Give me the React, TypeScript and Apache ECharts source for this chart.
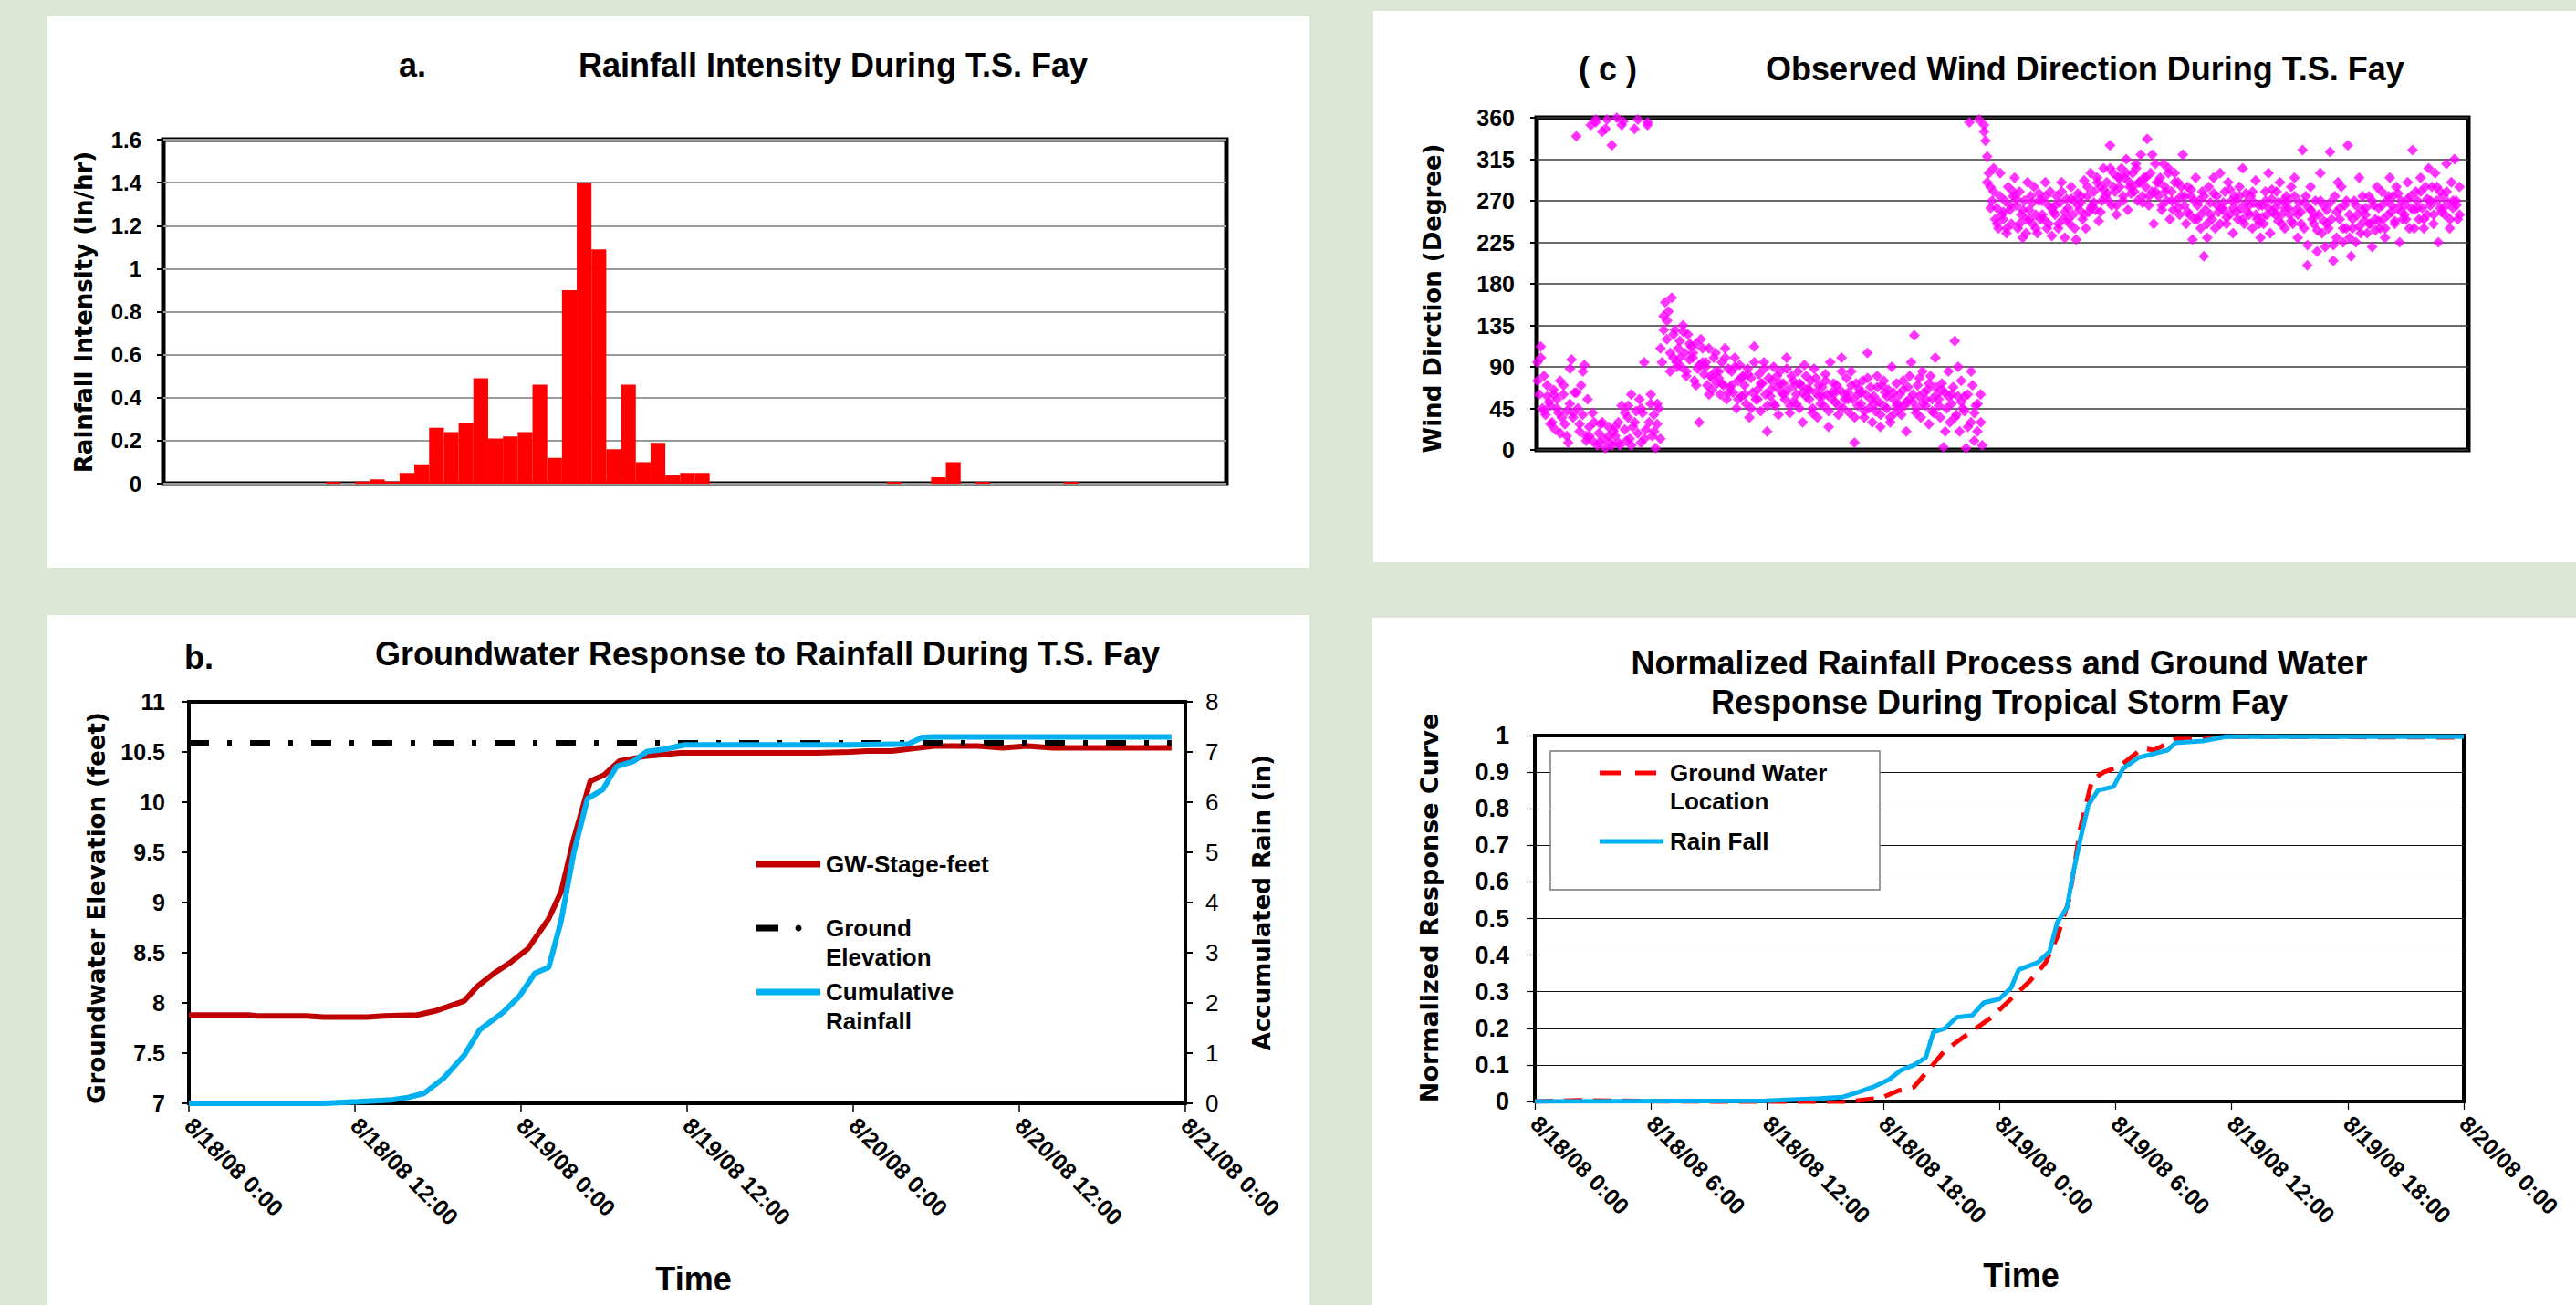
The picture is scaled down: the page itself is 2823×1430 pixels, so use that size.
import React, { useEffect, useRef } from "react";
import * as echarts from "echarts";

// ---------- Panel a: hourly rainfall intensity (in/hr), 8/18/08 0:00 .. 8/21/08 0:00
const RAIN_INTENSITY = [
  0, 0, 0, 0, 0, 0, 0, 0, 0, 0,
  0, 0.008, 0, 0.01, 0.02, 0.01, 0.05, 0.09, 0.26, 0.24,
  0.28, 0.49, 0.21, 0.22, 0.24, 0.46, 0.12, 0.9, 1.4, 1.09,
  0.16, 0.46, 0.1, 0.19, 0.04, 0.05, 0.05, 0, 0, 0,
  0, 0, 0, 0, 0, 0, 0, 0, 0, 0.008,
  0, 0, 0.03, 0.1, 0, 0.008, 0, 0, 0, 0,
  0, 0.008, 0, 0, 0, 0, 0, 0, 0, 0,
  0, 0,
];
const RAIN_HOURS = RAIN_INTENSITY.map((_, i) => String(i));

// ---------- Panel b: groundwater stage (ft), ground elevation (ft), cumulative rain (in)
const GW_HOURS = [0, 4.3, 4.9, 8.5, 9.7, 12.9, 14.1, 16.5, 17.8, 19.9, 20.8, 22.0, 23.3, 24.5, 26.0, 26.9, 27.8, 29.0, 30.0, 31.1, 33.1, 35.5, 41.6, 45.3, 47.8, 49.0, 50.8, 52.7, 53.9, 57.0, 58.8, 60.6, 62.4, 66.1, 71.0];
const GW_FEET = [7.88, 7.88, 7.87, 7.87, 7.86, 7.86, 7.87, 7.88, 7.92, 8.02, 8.16, 8.29, 8.41, 8.54, 8.84, 9.11, 9.63, 10.21, 10.27, 10.41, 10.46, 10.49, 10.49, 10.49, 10.5, 10.51, 10.51, 10.54, 10.56, 10.56, 10.54, 10.56, 10.54, 10.54, 10.54];
const GROUND_HOURS = [0, 71];
const GROUND_FEET = [10.59, 10.59];
const CUM_HOURS = [0, 9.8, 12.2, 14.7, 15.9, 17.0, 18.4, 19.9, 21.0, 22.7, 23.9, 25.0, 26.0, 26.9, 27.8, 28.8, 29.9, 30.9, 32.1, 33.1, 34.3, 35.8, 38.6, 47.8, 52.0, 53.0, 53.9, 71.0];
const CUM_RAIN = [0, 0, 0.03, 0.07, 0.12, 0.2, 0.5, 0.96, 1.46, 1.81, 2.14, 2.59, 2.71, 3.64, 4.98, 6.07, 6.25, 6.71, 6.81, 7.01, 7.05, 7.14, 7.14, 7.14, 7.16, 7.29, 7.3, 7.3];
const TICKS_B = ["8/18/08 0:00", "8/18/08 12:00", "8/19/08 0:00", "8/19/08 12:00", "8/20/08 0:00", "8/20/08 12:00", "8/21/08 0:00"];

// ---------- Panel d: normalized response curves
const NORM_GW_HOURS = [0, 2.2, 11.9, 15.5, 17.1, 17.9, 18.8, 19.6, 20.4, 21.2, 22.0, 22.8, 23.6, 24.6, 25.6, 26.4, 27.0, 27.6, 28.2, 28.8, 29.4, 30.2, 30.8, 31.4, 32.0, 33.1, 34.5, 36.1, 48];
const NORM_GW = [0, 0.003, -0.003, -0.005, 0.005, 0.01, 0.03, 0.04, 0.09, 0.14, 0.17, 0.2, 0.23, 0.28, 0.33, 0.38, 0.45, 0.55, 0.75, 0.88, 0.9, 0.915, 0.94, 0.965, 0.96, 0.99, 0.99, 0.997, 0.995];
const NORM_RAIN_HOURS = [0, 11.9, 14.7, 15.9, 16.7, 17.5, 18.3, 18.9, 19.6, 20.2, 20.6, 21.2, 21.8, 22.6, 23.2, 24.0, 24.6, 25.0, 26.0, 26.6, 27.0, 27.5, 27.8, 28.2, 28.6, 29.1, 29.9, 30.4, 31.2, 32.7, 33.1, 34.5, 35.7, 48];
const NORM_RAIN = [0, 0.002, 0.008, 0.012, 0.025, 0.04, 0.06, 0.085, 0.1, 0.12, 0.19, 0.2, 0.23, 0.235, 0.27, 0.28, 0.31, 0.36, 0.38, 0.41, 0.49, 0.53, 0.62, 0.72, 0.81, 0.85, 0.86, 0.91, 0.94, 0.96, 0.98, 0.985, 0.997, 0.997];
const TICKS_D = ["8/18/08 0:00", "8/18/08 6:00", "8/18/08 12:00", "8/18/08 18:00", "8/19/08 0:00", "8/19/08 6:00", "8/19/08 12:00", "8/19/08 18:00", "8/20/08 0:00"];

// ---------- Panel c: wind direction (deg), 8 readings per hour
const WIND_DIR_BY_HOUR = [
  [95, 60, 112, 45, 80, 38, 70, 52],
  [48, 30, 65, 22, 55, 40, 75, 35],
  [60, 28, 42, 8, 50, 98, 35, 62],
  [340, 45, 20, 70, 38, 92, 15, 55],
  [25, 352, 10, 30, 355, 5, 18, 28],
  [345, 12, 2, 358, 25, 8, 330, 20],
  [15, 360, 30, 5, 48, 356, 22, 10],
  [35, 12, 60, 25, 348, 42, 18, 55],
  [8, 40, 95, 22, 352, 30, 50, 15],
  [38, 2, 28, 45, 12, 95, 145, 160],
  [120, 150, 85, 165, 100, 130, 95, 110],
  [118, 90, 135, 105, 80, 125, 98, 112],
  [100, 75, 115, 88, 30, 120, 95, 82],
  [90, 70, 110, 80, 65, 100, 85, 72],
  [78, 60, 95, 70, 110, 55, 88, 68],
  [85, 62, 100, 45, 75, 92, 58, 80],
  [70, 50, 88, 35, 78, 62, 112, 55],
  [65, 82, 42, 72, 95, 60, 20, 78],
  [58, 75, 90, 48, 68, 38, 85, 62],
  [72, 55, 100, 65, 40, 80, 52, 70],
  [60, 85, 45, 70, 30, 92, 58, 66],
  [55, 75, 40, 88, 62, 35, 70, 50],
  [68, 48, 82, 60, 25, 95, 55, 72],
  [52, 70, 38, 65, 100, 45, 60, 78],
  [62, 40, 85, 55, 8, 72, 48, 66],
  [50, 75, 35, 60, 105, 45, 68, 30],
  [58, 42, 80, 52, 25, 70, 48, 62],
  [45, 65, 35, 90, 55, 40, 72, 50],
  [60, 38, 75, 48, 20, 68, 55, 95],
  [52, 124, 40, 70, 58, 35, 85, 62],
  [48, 65, 28, 80, 55, 40, 100, 60],
  [55, 35, 72, 3, 62, 45, 85, 30],
  [50, 68, 118, 38, 58, 20, 75, 45],
  [42, 2, 60, 355, 30, 70, 10, 48],
  [20, 358, 60, 5, 352, 335, 318, 300],
  [285, 270, 305, 250, 262, 240, 275, 255],
  [250, 270, 235, 285, 260, 245, 275, 295],
  [265, 240, 280, 255, 230, 270, 250, 290],
  [260, 275, 245, 285, 255, 235, 270, 250],
  [270, 250, 290, 240, 265, 280, 232, 258],
  [255, 275, 240, 268, 290, 250, 230, 272],
  [262, 245, 285, 255, 270, 228, 278, 260],
  [268, 250, 292, 240, 275, 258, 300, 265],
  [280, 260, 295, 248, 285, 270, 305, 275],
  [290, 270, 330, 265, 300, 280, 255, 295],
  [285, 305, 270, 295, 315, 260, 290, 278],
  [300, 280, 310, 270, 290, 320, 275, 295],
  [285, 337, 265, 300, 280, 245, 310, 290],
  [275, 295, 260, 310, 285, 270, 300, 250],
  [280, 260, 300, 270, 290, 255, 275, 320],
  [265, 245, 285, 255, 275, 228, 270, 295],
  [250, 270, 240, 280, 210, 260, 245, 285],
  [268, 250, 295, 240, 275, 258, 300, 262],
  [260, 280, 245, 290, 255, 270, 235, 275],
  [270, 250, 285, 262, 305, 245, 278, 258],
  [255, 275, 240, 268, 292, 250, 265, 230],
  [265, 245, 280, 255, 300, 235, 272, 258],
  [262, 280, 248, 290, 255, 270, 240, 275],
  [270, 255, 285, 245, 295, 260, 230, 268],
  [258, 325, 240, 275, 200, 262, 285, 250],
  [245, 270, 215, 255, 300, 235, 265, 220],
  [260, 240, 323, 250, 205, 275, 230, 290],
  [250, 285, 225, 265, 240, 330, 255, 210],
  [240, 270, 225, 255, 295, 235, 260, 248],
  [255, 235, 275, 245, 220, 265, 250, 285],
  [262, 240, 280, 250, 230, 270, 255, 295],
  [258, 275, 245, 285, 262, 225, 270, 250],
  [265, 250, 290, 240, 275, 325, 260, 280],
  [270, 250, 295, 262, 240, 285, 255, 305],
  [265, 285, 245, 300, 270, 225, 280, 258],
  [275, 255, 310, 268, 240, 290, 262, 315],
  [270, 250, 285],
];
// additional readings, 4 per hour, offset in time between the above
const WIND_DIR_EXTRA = [
  [75, 100, 42, 58], [28, 60, 45, 18], [70, 15, 88, 40], [62, 28, 85, 10],
  [15, 40, 358, 8], [30, 348, 15, 5], [25, 8, 352, 40], [48, 5, 30, 358],
  [45, 12, 355, 60], [20, 50, 110, 130], [140, 105, 125, 90], [100, 128, 85, 115],
  [105, 70, 92, 110], [95, 60, 78, 105], [85, 72, 100, 62], [70, 90, 55, 78],
  [60, 82, 45, 95], [55, 72, 88, 48], [65, 50, 80, 72], [60, 88, 48, 75],
  [50, 72, 62, 80], [65, 45, 78, 58], [58, 75, 42, 62], [62, 48, 85, 55],
  [55, 70, 35, 60], [62, 42, 78, 55], [50, 68, 38, 75], [58, 30, 62, 48],
  [45, 65, 52, 80], [60, 45, 78, 50], [55, 72, 42, 68], [48, 65, 20, 58],
  [60, 35, 90, 52], [58, 25, 85, 40], [50, 30, 345, 290], [262, 280, 245, 300],
  [258, 240, 265, 280], [272, 245, 260, 235], [250, 268, 240, 278], [255, 275, 245, 262],
  [265, 245, 280, 258], [250, 272, 240, 265], [275, 255, 285, 262], [268, 290, 258, 282],
  [278, 305, 285, 265], [295, 275, 300, 285], [285, 305, 290, 268], [295, 275, 320, 280],
  [290, 265, 280, 305], [270, 290, 262, 285], [275, 258, 282, 250], [265, 255, 275, 230],
  [255, 278, 265, 245], [268, 252, 282, 262], [258, 275, 250, 268], [265, 280, 255, 245],
  [252, 270, 262, 282], [255, 268, 245, 262], [262, 248, 275, 255], [245, 268, 222, 260],
  [255, 238, 270, 248], [245, 268, 222, 258], [262, 240, 270, 230], [250, 265, 242, 275],
  [262, 245, 270, 238], [248, 265, 240, 275], [265, 248, 278, 258], [255, 272, 262, 240],
  [262, 280, 250, 272], [270, 255, 285, 262], [262, 280, 250, 270], [265, 255],
];

const ARIAL = '"Liberation Sans", Arial, sans-serif';
const VERDANA = '"DejaVu Sans", Verdana, sans-serif';

const zip = (xs: number[], ys: number[]) => xs.map((x, i) => [x, ys[i]]);

function txt(text: string, x: number, y: number, size: number, opts: any = {}) {
  const align = opts.align || "center";
  const valign = opts.valign || "middle";
  return {
    type: "text",
    x,
    y,
    rotation: opts.rotation || 0,
    z: 20,
    silent: true,
    style: {
      text,
      fill: "#000",
      fontFamily: opts.family || ARIAL,
      fontWeight: opts.weight || "bold",
      fontSize: size,
      lineHeight: opts.lineHeight,
      textAlign: align,
      align,
      textVerticalAlign: valign,
      verticalAlign: valign,
    },
  };
}

export default function App() {
  const ref = useRef<HTMLDivElement>(null);

  useEffect(() => {
    document.body.style.margin = "0";
    document.body.style.overflow = "hidden";
    if (!ref.current) return;
    const chart = echarts.init(ref.current, undefined, { renderer: "svg" });

    const windData: number[][] = [];
    WIND_DIR_BY_HOUR.forEach((row, h) => {
      row.forEach((v, k) => windData.push([h + (k + 0.5) / 8, v]));
    });
    WIND_DIR_EXTRA.forEach((row, h) => {
      row.forEach((v, k) => windData.push([h + (k + 0.3) / 4, v]));
    });

    const yLabel = (size: number, margin: number, weight = "bold") => ({
      fontFamily: ARIAL,
      fontWeight: weight,
      fontSize: size,
      color: "#000",
      margin,
    });
    const tick = (length: number, width: number) => ({
      show: true,
      length,
      lineStyle: { color: "#000", width },
    });

    const option: any = {
      animation: false,
      backgroundColor: "#DCE6D4",
      grid: [
        { left: 179, top: 153, width: 1165, height: 377, show: true, borderColor: "#000", borderWidth: 5, backgroundColor: "transparent" },
        { left: 1684, top: 129, width: 1021, height: 364, show: true, borderColor: "#000", borderWidth: 5, backgroundColor: "transparent" },
        { left: 207, top: 769, width: 1092, height: 440, show: true, borderColor: "#000", borderWidth: 4, backgroundColor: "transparent" },
        { left: 1682, top: 806, width: 1018, height: 401, show: true, borderColor: "#000", borderWidth: 4, backgroundColor: "transparent" },
      ],
      xAxis: [
        { gridIndex: 0, type: "category", data: RAIN_HOURS, boundaryGap: true, axisLine: { show: false }, axisTick: { show: false }, axisLabel: { show: false }, splitLine: { show: false } },
        { gridIndex: 1, type: "value", min: 0, max: 72, axisLine: { show: false }, axisTick: { show: false }, axisLabel: { show: false }, splitLine: { show: false } },
        {
          gridIndex: 2, type: "value", min: 0, max: 72, interval: 12,
          axisLine: { show: false }, axisTick: tick(9, 1.5), splitLine: { show: false },
          axisLabel: { ...yLabel(25, 20), rotate: -45, formatter: (v: number) => TICKS_B[Math.round(v / 12)] || "" },
        },
        {
          gridIndex: 3, type: "value", min: 0, max: 48, interval: 6,
          axisLine: { show: false }, axisTick: tick(9, 1.2), splitLine: { show: false },
          axisLabel: { ...yLabel(25, 20), rotate: -45, formatter: (v: number) => TICKS_D[Math.round(v / 6)] || "" },
        },
      ],
      yAxis: [
        { gridIndex: 0, type: "value", min: 0, max: 1.6, interval: 0.2, axisLine: { show: false }, axisTick: tick(7, 2), axisLabel: yLabel(24, 24), splitLine: { lineStyle: { color: "#9a9a9a", width: 2 } } },
        { gridIndex: 1, type: "value", min: 0, max: 360, interval: 45, axisLine: { show: false }, axisTick: tick(7, 2), axisLabel: yLabel(25, 24), splitLine: { lineStyle: { color: "#3a3a3a", width: 1.5 } } },
        { gridIndex: 2, type: "value", min: 7, max: 11, interval: 0.5, axisLine: { show: false }, axisTick: tick(8, 2), axisLabel: yLabel(25, 26), splitLine: { show: false } },
        { gridIndex: 2, type: "value", position: "right", min: 0, max: 8, interval: 1, axisLine: { show: false }, axisTick: tick(8, 2), axisLabel: yLabel(26, 22, "normal"), splitLine: { show: false } },
        { gridIndex: 3, type: "value", min: 0, max: 1, interval: 0.1, axisLine: { show: false }, axisTick: tick(9, 1.2), axisLabel: yLabel(27, 28), splitLine: { lineStyle: { color: "#111", width: 1.2 } } },
      ],
      series: [
        {
          name: "Rainfall Intensity", type: "bar", xAxisIndex: 0, yAxisIndex: 0, data: RAIN_INTENSITY,
          barCategoryGap: "0%", barGap: "0%", itemStyle: { color: "#FF0000" }, silent: true,
        },
        {
          name: "Wind Direction", type: "scatter", xAxisIndex: 1, yAxisIndex: 1, data: windData,
          symbol: "diamond", symbolSize: 12, itemStyle: { color: "#FF00FF" }, silent: true,
        },
        {
          name: "GW-Stage-feet", type: "line", xAxisIndex: 2, yAxisIndex: 2, data: zip(GW_HOURS, GW_FEET),
          symbol: "none", lineStyle: { color: "#C00000", width: 6 }, silent: true,
        },
        {
          name: "Ground Elevation", type: "line", xAxisIndex: 2, yAxisIndex: 2, data: zip(GROUND_HOURS, GROUND_FEET),
          symbol: "none", lineStyle: { color: "#000", width: 6, type: [22, 20, 5, 20] }, silent: true,
        },
        {
          name: "Cumulative Rainfall", type: "line", xAxisIndex: 2, yAxisIndex: 3, data: zip(CUM_HOURS, CUM_RAIN),
          symbol: "none", lineStyle: { color: "#00B0F0", width: 6 }, silent: true,
        },
        {
          name: "Ground Water Location", type: "line", xAxisIndex: 3, yAxisIndex: 4, data: zip(NORM_GW_HOURS, NORM_GW),
          symbol: "none", lineStyle: { color: "#FF0000", width: 5, type: [20, 12] }, silent: true,
        },
        {
          name: "Rain Fall", type: "line", xAxisIndex: 3, yAxisIndex: 4, data: zip(NORM_RAIN_HOURS, NORM_RAIN),
          symbol: "none", lineStyle: { color: "#00B0F0", width: 5 }, silent: true,
        },
      ],
      graphic: {
        elements: [
          // white panels
          { type: "rect", z: -10, silent: true, shape: { x: 52, y: 18, width: 1383, height: 604 }, style: { fill: "#fff" } },
          { type: "rect", z: -10, silent: true, shape: { x: 1505, y: 12, width: 1318, height: 604 }, style: { fill: "#fff" } },
          { type: "rect", z: -10, silent: true, shape: { x: 52, y: 674, width: 1383, height: 756 }, style: { fill: "#fff" } },
          { type: "rect", z: -10, silent: true, shape: { x: 1504, y: 677, width: 1319, height: 753 }, style: { fill: "#fff" } },

          // titles
          txt("a.", 452, 71, 36),
          txt("Rainfall Intensity During T.S. Fay", 913, 71, 36),
          txt("( c )", 1762, 75, 36),
          txt("Observed Wind Direction During T.S. Fay", 2285, 75, 36),
          txt("b.", 218, 720, 36),
          txt("Groundwater Response to Rainfall During T.S. Fay", 841, 716, 36),
          txt("Normalized Rainfall Process and Ground Water\nResponse During Tropical Storm Fay", 2191, 748, 36, { lineHeight: 43 }),

          // axis titles
          txt("Rainfall Intensity (in/hr)", 92, 342, 26, { family: VERDANA, rotation: Math.PI / 2 }),
          txt("Wind Dirction (Degree)", 1570, 327, 26, { family: VERDANA, rotation: Math.PI / 2 }),
          txt("Groundwater Elevation (feet)", 106, 995, 26, { family: VERDANA, rotation: Math.PI / 2 }),
          txt("Accumulated Rain (in)", 1383, 989, 26, { family: VERDANA, rotation: Math.PI / 2 }),
          txt("Normalized Response Curve", 1566, 995, 27, { family: VERDANA, rotation: Math.PI / 2 }),
          txt("Time", 760, 1401, 36),
          txt("Time", 2215, 1397, 36),

          // legend, panel b
          { type: "line", z: 20, silent: true, shape: { x1: 829, y1: 947, x2: 899, y2: 947 }, style: { stroke: "#C00000", lineWidth: 7 } },
          txt("GW-Stage-feet", 905, 947, 26, { align: "left" }),
          { type: "line", z: 20, silent: true, shape: { x1: 829, y1: 1017, x2: 853, y2: 1017 }, style: { stroke: "#000", lineWidth: 7 } },
          { type: "circle", z: 20, silent: true, shape: { cx: 875, cy: 1017, r: 3.5 }, style: { fill: "#000" } },
          txt("Ground\nElevation", 905, 1001, 26, { align: "left", valign: "top", lineHeight: 32 }),
          { type: "line", z: 20, silent: true, shape: { x1: 829, y1: 1087, x2: 899, y2: 1087 }, style: { stroke: "#00B0F0", lineWidth: 7 } },
          txt("Cumulative\nRainfall", 905, 1071, 26, { align: "left", valign: "top", lineHeight: 32 }),

          // legend, panel d
          { type: "rect", z: 15, silent: true, shape: { x: 1699, y: 823, width: 361, height: 152 }, style: { fill: "#fff", stroke: "#7a7a7a", lineWidth: 1.5 } },
          { type: "line", z: 20, silent: true, shape: { x1: 1753, y1: 847, x2: 1815, y2: 847 }, style: { stroke: "#FF0000", lineWidth: 5, lineDash: [23, 16] } },
          txt("Ground Water\nLocation", 1830, 831, 26, { align: "left", valign: "top", lineHeight: 31 }),
          { type: "line", z: 20, silent: true, shape: { x1: 1753, y1: 922, x2: 1823, y2: 922 }, style: { stroke: "#00B0F0", lineWidth: 5 } },
          txt("Rain Fall", 1830, 922, 26, { align: "left" }),
        ],
      },
    };

    chart.setOption(option);
    return () => chart.dispose();
  }, []);

  return <div ref={ref} style={{ width: 2823, height: 1430 }} />;
}
